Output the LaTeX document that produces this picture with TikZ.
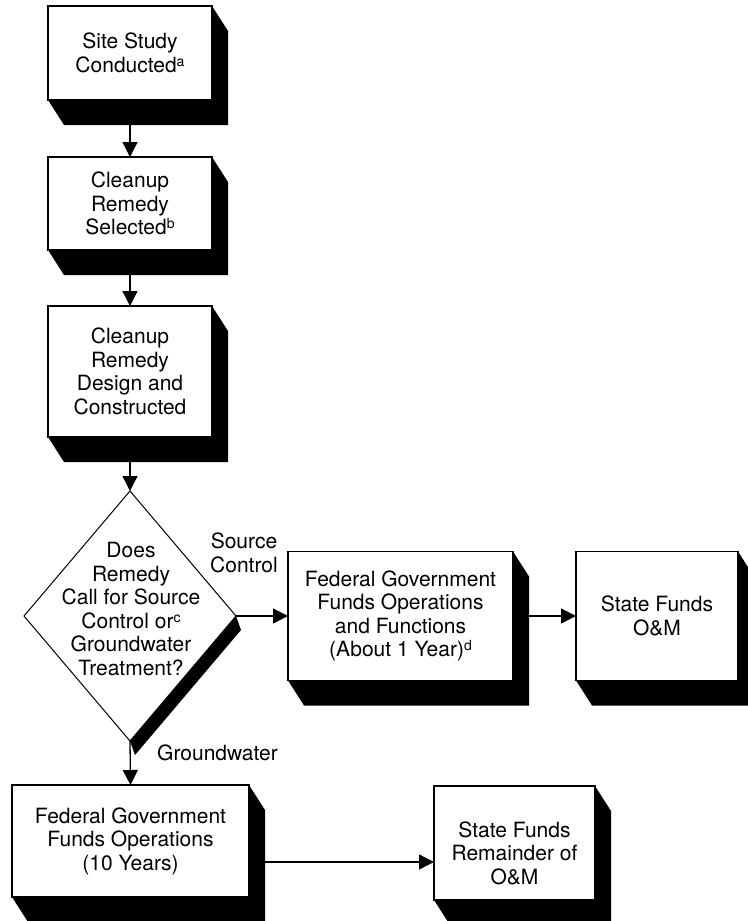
\documentclass[tikz,border=0pt]{standalone}
\usepackage{fontspec}
\setmainfont{TeX Gyre Heros}
\usetikzlibrary{shapes.geometric,arrows.meta,calc}
\pgfdeclarelayer{bg}
\pgfsetlayers{bg,main}
\newcommand{\supmark}[1]{\raisebox{0.55ex}{\fontsize{14}{14}\selectfont #1}}
\begin{document}
\begin{tikzpicture}[x=1pt,y=-1pt,
  every node/.style={font=\fontsize{21}{23.5}\selectfont},
  box/.style={draw, line width=1.3pt, fill=white, align=center, inner sep=0pt, outer sep=0pt},
  decision/.style={draw, shape=diamond, line width=1pt, fill=white, inner sep=0pt, outer sep=0pt},
  lbl/.style={align=center, inner sep=0pt},
  arr/.style={line width=1.3pt, -{Triangle[length=15pt,width=15pt]}},
  shadowfill/.style={fill=black}]
\useasboundingbox (0,0) rectangle (747,921);

\node[box, minimum width=164pt, minimum height=94pt] (b1) at (130,53) {Site Study\\Conducted\supmark{a}};
\node[box, minimum width=164pt, minimum height=93pt] (b2) at (130,203.5) {Cleanup\\Remedy\\Selected\supmark{b}};
\node[box, minimum width=164pt, minimum height=131pt] (b3) at (130,371.5) {Cleanup\\Remedy\\Design and\\Constructed};

\node[decision, minimum width=212pt, minimum height=250pt] (d) at (130,616) {};
\node[lbl] (dt) at (131,609) {Does\\Remedy\\Call for Source\\Control or\supmark{c}\\Groundwater\\Treatment?};

\node[box, minimum width=225pt, minimum height=129pt] (f1) at (400.5,616) {Federal Government\\Funds Operations\\and Functions\\(About 1 Year)\supmark{d}};
\node[box, minimum width=162pt, minimum height=129pt] (s1) at (657,616) {State Funds\\O\&M};

\node[box, minimum width=237pt, minimum height=112pt] (f2) at (130.5,841) {Federal Government\\Funds Operations\\(10 Years)};
\node[box, minimum width=161pt, minimum height=114pt] (s2) at (514.5,843) {};
\node[lbl] (s2t) at (514.5,853) {State Funds\\Remainder of\\O\&M};

\node[lbl] (lsc) at (244,553) {Source\\Control};
\node[lbl, anchor=west] (lgw) at (157,753) {Groundwater};

\begin{pgfonlayer}{bg}
  \foreach \n in {b1,b2,b3,f1,s1,f2,s2}
    \fill[shadowfill] (\n.north east) -- ($(\n.north east)+(16,25)$) -- ($(\n.south east)+(16,25)$) -- ($(\n.south west)+(16,25)$) -- (\n.south west) -- cycle;
  \fill[shadowfill] (d.east) -- ($(d.east)+(5,14)$) -- ($(d.south)+(5,14)$) -- (d.south) -- cycle;
\end{pgfonlayer}

\draw[arr] ([yshift=-25pt]b1.south) -- (b2.north);
\draw[arr] ([yshift=-25pt]b2.south) -- (b3.north);
\draw[arr] ([yshift=-25pt]b3.south) -- (d.north);
\draw[arr] (d.east) -- (f1.west);
\draw[arr] ([xshift=16pt]f1.east) -- (s1.west);
\draw[arr] (d.south) -- (f2.north);
\draw[arr] ([shift={(16pt,-21pt)}]f2.east) -- ([yshift=-19pt]s2.west);
\end{tikzpicture}
\end{document}
